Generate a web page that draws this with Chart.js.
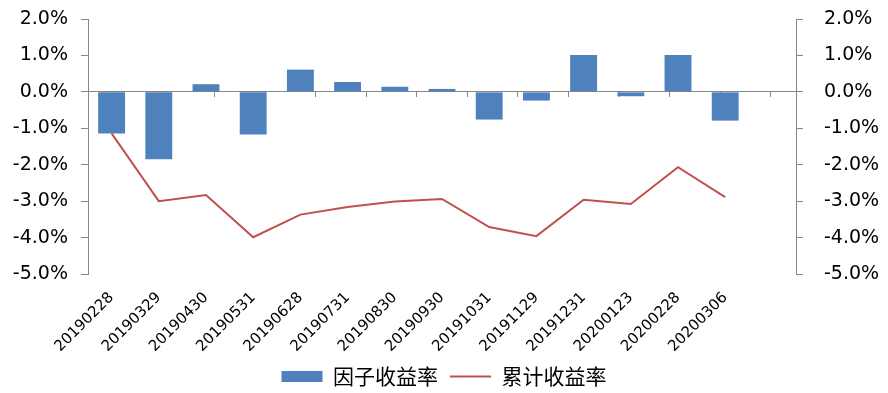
<!DOCTYPE html>
<html>
<head>
<meta charset="utf-8">
<script src="https://cdn.jsdelivr.net/npm/chart.js@4/dist/chart.umd.min.js"></script>
<style>
  html, body { margin: 0; padding: 0; background: #fff; }
  #wrap { width: 888px; height: 393px; position: relative; }
</style>
</head>
<body>
<div id="wrap"><canvas id="chart"></canvas></div>
<script>
// dates of each period (last slot is an empty category, as in the original sheet)
const categories = ['20190228', '20190329', '20190430', '20190531', '20190628', '20190731', '20190830',
  '20190930', '20191031', '20191129', '20191231', '20200123', '20200228', '20200306', ''];

// factor return per period, %
const factorReturn = [-1.14, -1.85, 0.21, -1.17, 0.61, 0.27, 0.14, 0.08, -0.76, -0.24, 1.01, -0.12, 1.01, -0.79, null];

// cumulative return, %
const cumReturn = [-1.14, -3.00, -2.83, -3.99, -3.37, -3.16, -3.01, -2.94, -3.71, -3.96, -2.96, -3.08, -2.07, -2.89, null];

const yMin = -5, yMax = 2, yStep = 1;

const AXIS_GREY = '#868686';
const tickFont = { family: 'DejaVu Sans', size: 19 };

const pct = v => v.toFixed(1) + '%';

// keep the y label overflow from pushing the plot down
const tightY = w => s => { s.width = w; s.paddingTop = 8; s.paddingBottom = 8; };

const ctx = document.getElementById('chart').getContext('2d');
new Chart(ctx, {
  data: {
    labels: categories,
    datasets: [
      {
        type: 'bar',
        label: '因子收益率',
        data: factorReturn,
        backgroundColor: '#4F81BD',
        borderWidth: 0,
        pointStyle: 'rect',
        categoryPercentage: 1,
        barPercentage: 0.57,
        xAxisID: 'x',
        yAxisID: 'y',
        order: 1
      },
      {
        type: 'line',
        label: '累计收益率',
        data: cumReturn,
        borderColor: '#C0504D',
        backgroundColor: '#C0504D',
        borderWidth: 2,
        pointRadius: 0,
        pointStyle: 'line',
        tension: 0,
        xAxisID: 'x',
        yAxisID: 'y',
        order: 0
      }
    ]
  },
  options: {
    responsive: true,
    maintainAspectRatio: false,
    animation: false,
    layout: { padding: { top: 19, left: 0, right: 0, bottom: -4 } },
    plugins: {
      tooltip: { enabled: false },
      legend: {
        position: 'bottom',
        labels: {
          usePointStyle: true,
          pointStyleWidth: 41,
          boxHeight: 11,
          padding: 12,
          color: '#000',
          font: { family: 'Noto Sans CJK SC', size: 21 },
          sort: (a, b) => a.datasetIndex - b.datasetIndex
        }
      }
    },
    scales: {
      x: {
        type: 'category',
        position: 'bottom',
        grid: { display: false },
        border: { display: false },
        ticks: {
          autoSkip: false,
          minRotation: 45,
          maxRotation: 45,
          padding: 7,
          color: '#000',
          font: { family: 'DejaVu Sans', size: 15 }
        },
        afterFit: s => { s.height = 80; }
      },
      xZero: {
        type: 'category',
        position: { y: 0 },
        grid: {
          offset: true,
          drawOnChartArea: false,
          drawTicks: true,
          tickLength: 5,
          color: AXIS_GREY
        },
        border: { display: true, color: AXIS_GREY, width: 1 },
        ticks: { display: false }
      },
      y: {
        position: 'left',
        min: yMin,
        max: yMax,
        grid: { drawOnChartArea: false, tickLength: 7, color: AXIS_GREY },
        border: { color: AXIS_GREY },
        ticks: { stepSize: yStep, padding: 13, color: '#000', font: tickFont, callback: pct },
        afterFit: tightY(88)
      },
      y2: {
        position: 'right',
        min: yMin,
        max: yMax,
        grid: { drawOnChartArea: false, tickLength: 7, color: AXIS_GREY },
        border: { color: AXIS_GREY },
        ticks: { stepSize: yStep, padding: 21, color: '#000', font: tickFont, callback: pct },
        afterFit: tightY(92)
      }
    }
  }
});
</script>
</body>
</html>
